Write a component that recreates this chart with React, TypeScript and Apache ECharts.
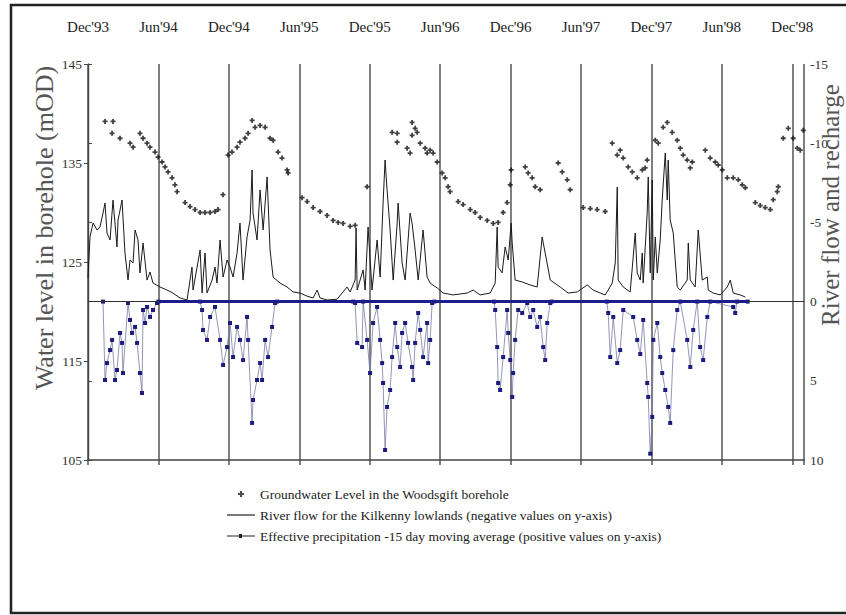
import React, { useEffect, useRef } from "react";
import * as echarts from "echarts";

// x values are months elapsed since 1 December 1993
const xTickLabels = ["Dec'93", "Jun'94", "Dec'94", "Jun'95", "Dec'95", "Jun'96", "Dec'96", "Jun'97", "Dec'97", "Jun'98", "Dec'98"];
const leftTicks = [105, 115, 125, 135, 145];

// Groundwater level in the Woodsgift borehole (mOD)
const gwMonth = [1.45, 2.05, 2.13, 2.73, 3.58, 3.84, 4.43, 4.69, 5.03, 5.28, 5.71, 5.97, 6.31, 6.56, 6.82, 7.16, 7.41, 7.59, 8.27, 8.69, 9.12, 9.55, 9.97, 10.4, 10.82, 11.08, 11.5, 11.93, 12.27, 12.7, 12.95, 13.38, 13.64, 13.98, 14.23, 14.66, 15.09, 15.51, 15.77, 16.19, 16.53, 16.96, 17.05, 18.24, 18.67, 19.18, 19.77, 20.37, 20.88, 21.31, 21.73, 22.33, 22.76, 23.78, 25.91, 26.34, 26.34, 27.19, 27.44, 27.61, 27.61, 27.87, 28.04, 28.3, 28.72, 28.89, 29.15, 29.4, 29.75, 30.17, 30.43, 30.68, 30.85, 31.54, 31.96, 32.56, 32.98, 33.41, 34.01, 34.52, 34.94, 35.37, 35.71, 35.97, 36.05, 37.25, 37.5, 37.84, 38.1, 38.52, 40.06, 40.4, 40.83, 41.08, 42.19, 42.79, 43.38, 44.06, 44.66, 45.09, 45.34, 45.6, 46.02, 46.37, 46.79, 47.22, 47.47, 47.64, 48.33, 48.58, 49.0, 49.35, 49.77, 50.2, 50.46, 50.71, 51.05, 51.31, 51.48, 52.59, 53.01, 53.44, 53.69, 54.04, 54.46, 54.97, 55.4, 55.74, 56.0, 56.85, 57.27, 57.7, 58.13, 58.38, 58.72, 58.81, 59.23, 59.66, 60.08, 60.43, 60.68, 60.94];
const gwLevel = [139.2, 138.0, 139.2, 137.5, 137.0, 136.6, 138.0, 137.5, 137.0, 136.6, 136.1, 135.6, 135.1, 134.6, 134.1, 133.5, 132.8, 132.1, 131.0, 130.6, 130.3, 130.0, 130.0, 130.0, 130.1, 130.3, 131.8, 135.8, 136.1, 136.6, 137.1, 137.5, 138.0, 139.3, 138.6, 138.8, 138.6, 137.5, 137.3, 136.1, 135.5, 134.3, 134.0, 131.5, 131.1, 130.5, 130.1, 129.7, 129.2, 129.0, 128.9, 128.6, 128.7, 132.6, 138.1, 138.0, 137.1, 136.5, 136.0, 139.1, 137.8, 138.5, 138.1, 137.0, 136.5, 136.0, 136.3, 136.0, 135.1, 134.0, 133.5, 132.6, 132.1, 131.1, 130.8, 130.3, 130.0, 129.5, 129.2, 128.9, 129.0, 130.0, 131.0, 132.8, 134.3, 134.6, 134.0, 133.5, 132.6, 132.3, 135.0, 134.1, 133.3, 132.3, 130.5, 130.4, 130.3, 130.1, 137.0, 135.8, 136.3, 135.5, 134.6, 134.1, 133.5, 134.3, 134.5, 135.3, 137.3, 137.0, 138.6, 139.1, 138.1, 137.3, 136.5, 135.8, 135.3, 134.5, 135.1, 136.3, 135.5, 135.1, 134.8, 134.3, 133.5, 133.5, 133.3, 132.8, 132.5, 131.0, 130.7, 130.5, 130.3, 131.3, 132.1, 132.6, 137.5, 138.5, 137.5, 136.5, 136.3, 138.3];

// River flow for the Kilkenny lowlands (plotted as negative values, right axis)
const flowMonth = [0, 0.17, 0.43, 0.77, 1.02, 1.28, 1.45, 1.62, 1.88, 2.13, 2.47, 2.56, 2.9, 3.15, 3.41, 3.58, 3.84, 4.01, 4.26, 4.43, 4.69, 5.03, 5.28, 5.54, 6.14, 6.73, 7.24, 7.84, 8.44, 8.86, 8.95, 9.55, 9.72, 9.97, 10.14, 10.57, 10.82, 10.99, 11.25, 11.51, 11.85, 12.1, 12.36, 12.7, 12.95, 13.21, 13.55, 13.81, 13.98, 14.06, 14.4, 14.66, 14.92, 15.26, 15.51, 15.77, 16.36, 16.96, 17.47, 18.07, 18.67, 19.18, 19.52, 19.77, 20.37, 21.22, 22.07, 22.33, 22.76, 22.84, 22.93, 23.44, 23.61, 23.86, 24.2, 24.63, 24.89, 25.14, 25.31, 25.48, 25.74, 26.0, 26.34, 26.42, 26.76, 27.02, 27.44, 27.61, 27.87, 28.13, 28.55, 28.89, 29.15, 29.75, 30.26, 31.11, 32.3, 32.81, 33.41, 34.26, 34.69, 34.86, 34.94, 35.28, 35.54, 35.8, 36.05, 36.14, 36.39, 36.99, 37.67, 38.27, 38.69, 38.95, 39.38, 40.23, 40.91, 41.68, 42.53, 43.04, 43.64, 44.06, 44.32, 44.66, 44.92, 45.09, 45.17, 45.6, 46.19, 46.45, 46.62, 46.79, 47.05, 47.22, 47.3, 47.64, 47.73, 47.9, 48.07, 48.16, 48.33, 48.5, 48.75, 48.92, 49.18, 49.35, 49.43, 49.6, 49.86, 50.2, 50.46, 51.05, 51.14, 51.31, 51.73, 51.99, 52.33, 52.76, 52.84, 53.27, 53.86, 54.46, 54.72, 54.97, 55.57, 56.0];
const flowValue = [-1.5, -4.08, -4.96, -4.52, -4.71, -5.59, -6.22, -4.33, -3.89, -6.41, -3.45, -5.15, -6.41, -3.07, -1.36, -2.63, -2.44, -4.52, -3.89, -1.81, -3.7, -1.36, -1.87, -1.17, -0.92, -0.73, -0.54, -0.23, -0.1, -2.18, -0.73, -3.26, -0.54, -3.07, -0.54, -1.36, -2.18, -1.17, -3.89, -1.55, -2.63, -2.18, -1.55, -3.07, -4.96, -1.36, -4.08, -5.15, -8.31, -5.59, -3.89, -7.05, -4.52, -7.87, -3.26, -1.55, -1.17, -0.92, -0.61, -0.54, -0.34, -0.23, -0.73, -0.23, -0.1, -0.15, -0.92, -0.61, -1.36, -4.65, -0.73, -2.0, -0.73, -4.71, -0.73, -3.89, -1.55, -6.22, -8.94, -7.05, -4.52, -1.36, -4.96, -6.22, -2.44, -1.36, -5.59, -4.96, -3.26, -1.36, -4.52, -1.55, -1.17, -0.86, -0.54, -0.42, -0.54, -0.73, -0.42, -0.54, -1.17, -4.71, -2.18, -1.81, -3.45, -2.63, -4.96, -3.7, -1.36, -1.24, -1.05, -0.92, -4.08, -3.07, -1.36, -0.92, -0.54, -0.61, -1.05, -0.73, -0.54, -0.42, -0.73, -1.17, -2.44, -7.23, -1.36, -0.92, -0.61, -2.82, -4.33, -1.81, -1.36, -3.07, -1.17, -5.59, -7.87, -1.81, -7.68, -1.36, -4.08, -1.81, -3.89, -6.41, -9.38, -6.41, -8.94, -5.15, -4.33, -0.92, -0.73, -1.36, -3.7, -1.36, -0.92, -4.52, -1.36, -1.55, -0.73, -0.54, -0.42, -0.92, -1.36, -0.54, -0.42, -0.29];

// Effective precipitation, 15 day moving average (positive values, right axis)
const precipMonth = [1.28, 1.45, 1.62, 1.88, 2.05, 2.3, 2.47, 2.73, 2.9, 2.98, 3.41, 3.58, 3.75, 4.01, 4.18, 4.43, 4.6, 4.69, 4.86, 5.03, 5.28, 5.54, 5.88, 6.0, 9.55, 9.72, 9.8, 10.14, 10.4, 10.82, 11.25, 11.51, 11.85, 12.1, 12.36, 12.7, 12.95, 13.21, 13.55, 13.64, 13.98, 14.06, 14.4, 14.66, 14.83, 15.09, 15.34, 15.68, 15.94, 16.1, 22.6, 22.76, 22.93, 23.35, 23.44, 23.78, 24.03, 24.29, 24.63, 24.89, 25.06, 25.14, 25.31, 25.48, 25.74, 25.91, 26.17, 26.34, 26.59, 26.76, 27.02, 27.27, 27.61, 27.7, 27.87, 28.13, 28.3, 28.55, 28.89, 28.98, 29.15, 29.32, 29.5, 34.6, 34.69, 34.86, 34.94, 35.11, 35.37, 35.71, 35.8, 35.97, 36.14, 36.22, 36.39, 36.65, 36.99, 37.42, 37.67, 37.93, 38.27, 38.52, 38.78, 38.95, 39.12, 39.38, 39.5, 44.2, 44.32, 44.49, 44.75, 45.09, 45.34, 45.6, 46.45, 46.79, 47.05, 47.3, 47.64, 47.73, 47.9, 48.07, 48.16, 48.5, 48.75, 48.92, 49.18, 49.43, 49.6, 49.86, 50.2, 50.46, 51.05, 51.31, 51.56, 51.9, 52.15, 52.41, 52.76, 53.01, 54.97, 55.14, 55.3, 56.2];
const precipValue = [0, 4.95, 3.88, 3.06, 2.42, 4.95, 4.32, 1.98, 2.61, 4.51, 0.09, 1.16, 1.98, 1.6, 2.61, 4.51, 5.77, 0.53, 1.35, 0.34, 0.97, 0.53, 0.09, 0, 0, 0.53, 1.79, 2.42, 0.97, 0.34, 2.42, 4.0, 2.87, 1.35, 3.5, 1.6, 2.42, 3.69, 0.97, 2.42, 7.66, 6.21, 4.95, 3.88, 4.95, 2.42, 3.5, 1.6, 0.09, 0, 0, 0.09, 2.61, 2.87, 0, 2.42, 4.51, 1.35, 0.34, 2.42, 3.88, 5.14, 9.37, 6.65, 5.58, 3.5, 1.35, 2.87, 4.13, 1.98, 1.35, 2.61, 4.13, 4.95, 2.61, 0.72, 1.79, 3.5, 1.35, 3.88, 2.42, 0.09, 0, 0, 0.53, 2.87, 5.14, 5.58, 3.5, 0.53, 1.98, 3.69, 6.02, 4.51, 2.42, 0.53, 0.72, 0.09, 0.97, 0.53, 1.6, 0.97, 2.87, 3.69, 1.35, 0.09, 0, 0, 0.72, 3.5, 0.97, 3.88, 3.06, 0.53, 0.97, 2.42, 3.31, 1.16, 5.14, 6.02, 9.6, 7.28, 2.42, 1.35, 3.5, 4.51, 5.58, 6.65, 7.66, 3.06, 0.53, 0, 2.42, 4.13, 1.79, 0, 2.87, 3.69, 0.97, 0, 0.34, 0.72, 0, 0];

const zip = (xs: number[], ys: number[]) => xs.map((x, i) => [x, ys[i]]);

const SERIF = "'Liberation Serif', 'Times New Roman', serif";
const NAME_GW = "Groundwater Level in the Woodsgift borehole";
const NAME_FLOW = "River flow for the Kilkenny lowlands (negative values on y-axis)";
const NAME_PRECIP = "Effective precipitation -15 day moving average (positive values on y-axis)";

export default function App() {
  const ref = useRef<HTMLDivElement>(null);
  useEffect(() => {
    if (!ref.current) return;
    const chart = echarts.init(ref.current, null, { renderer: "svg" });
    const plus = "path://M1.6,0H3.4V1.6H5V3.4H3.4V5H1.6V3.4H0V1.6H1.6Z";
    chart.setOption({
      animation: false,
      backgroundColor: "#fff",
      grid: { left: 88, right: 42, top: 64, bottom: 155, containLabel: false },
      xAxis: [
        {
          type: "value",
          position: "top",
          min: 0,
          max: 61,
          interval: 6,
          axisLine: { show: true, lineStyle: { color: "#444", width: 1.2 } },
          axisTick: { show: false },
          splitLine: { show: true, lineStyle: { color: "#555", width: 1.5 } },
          axisLabel: {
            margin: 30,
            fontFamily: SERIF,
            fontSize: 15,
            color: "#222",
            formatter: (v: number) => (v % 6 === 0 ? xTickLabels[v / 6] ?? "" : ""),
          },
        },
        {
          type: "value",
          position: "bottom",
          min: 0,
          max: 61,
          interval: 6,
          axisLine: { show: true, lineStyle: { color: "#444", width: 1.5 } },
          axisTick: { show: true, length: 5, lineStyle: { color: "#555", width: 1.5 } },
          axisLabel: { show: false },
          splitLine: { show: false },
        },
      ],
      yAxis: [
        {
          type: "value",
          position: "left",
          min: 105,
          max: 145,
          axisLine: { show: true, lineStyle: { color: "#444", width: 1.2 } },
          axisTick: { show: true, length: 4, customValues: leftTicks, lineStyle: { color: "#444" } },
          splitLine: { show: false },
          axisLabel: { customValues: leftTicks, fontFamily: SERIF, fontSize: 13.5, color: "#333", margin: 6 },
        },
        {
          type: "value",
          position: "right",
          min: -15,
          max: 10,
          interval: 5,
          inverse: true,
          axisLine: { show: true, lineStyle: { color: "#444", width: 1.2 } },
          axisTick: { show: true, length: 4, lineStyle: { color: "#444" } },
          splitLine: { show: false },
          axisLabel: { fontFamily: SERIF, fontSize: 13.5, color: "#333", margin: 6 },
        },
      ],
      legend: {
        orient: "vertical",
        left: 222,
        top: 482,
        itemWidth: 28,
        itemHeight: 6,
        itemGap: 7,
        textStyle: { fontFamily: SERIF, fontSize: 13.5, color: "#222" },
        data: [
          { name: NAME_GW, icon: plus, itemStyle: { color: "#222" } },
          { name: NAME_FLOW, icon: "path://M0,0H28V1.2H0Z", itemStyle: { color: "#222" } },
          { name: NAME_PRECIP, icon: "path://M0,2H28V3.2H0Z M12,0.6H15V4.6H12Z", itemStyle: { color: "#222" } },
        ],
      },
      series: [
        {
          name: NAME_FLOW,
          type: "line",
          xAxisIndex: 0,
          yAxisIndex: 1,
          data: zip(flowMonth, flowValue),
          symbol: "none",
          lineStyle: { color: "#1a1a1a", width: 1 },
          itemStyle: { color: "#1a1a1a" },
          z: 2,
          markLine: {
            silent: true,
            symbol: ["none", "none"],
            label: { show: false },
            lineStyle: { color: "#333", width: 1, type: "solid" },
            data: [[{ coord: [0, 0] }, { coord: [61, 0] }]],
          },
        },
        {
          name: NAME_PRECIP,
          type: "line",
          xAxisIndex: 0,
          yAxisIndex: 1,
          data: zip(precipMonth, precipValue),
          symbol: "rect",
          symbolSize: 4,
          showAllSymbol: true,
          itemStyle: { color: "#1c1c7e" },
          lineStyle: { color: "#7a7aaa", width: 0.8 },
          z: 3,
          markLine: {
            silent: true,
            symbol: ["none", "none"],
            label: { show: false },
            lineStyle: { color: "#1c1c8a", width: 3, type: "solid" },
            data: [[{ coord: [6.0, 0] }, { coord: [56.2, 0] }]],
          },
        },
        {
          name: NAME_GW,
          type: "scatter",
          xAxisIndex: 0,
          yAxisIndex: 0,
          data: zip(gwMonth, gwLevel),
          symbol: plus,
          symbolSize: 5,
          itemStyle: { color: "#111" },
          z: 4,
        },
      ],
      graphic: [
        {
          type: "rect",
          shape: { x: 11, y: 5, width: 845, height: 608 },
          style: { fill: "none", stroke: "#222", lineWidth: 2.5 },
          silent: true,
        },
        {
          type: "text",
          x: 44,
          y: 228,
          rotation: Math.PI / 2,
          style: {
            text: "Water level in borehole (mOD)",
            font: `26px ${SERIF}`,
            fill: "#555",
            align: "center",
            verticalAlign: "middle",
          },
        },
        {
          type: "text",
          x: 830,
          y: 205,
          rotation: Math.PI / 2,
          style: {
            text: "River flow and recharge",
            font: `25px ${SERIF}`,
            fill: "#555",
            align: "center",
            verticalAlign: "middle",
          },
        },
      ],
    });
    return () => chart.dispose();
  }, []);
  return (
    <div
      ref={ref}
      style={{ position: "fixed", left: 0, top: 0, width: 846, height: 615, background: "#fff" }}
    />
  );
}
